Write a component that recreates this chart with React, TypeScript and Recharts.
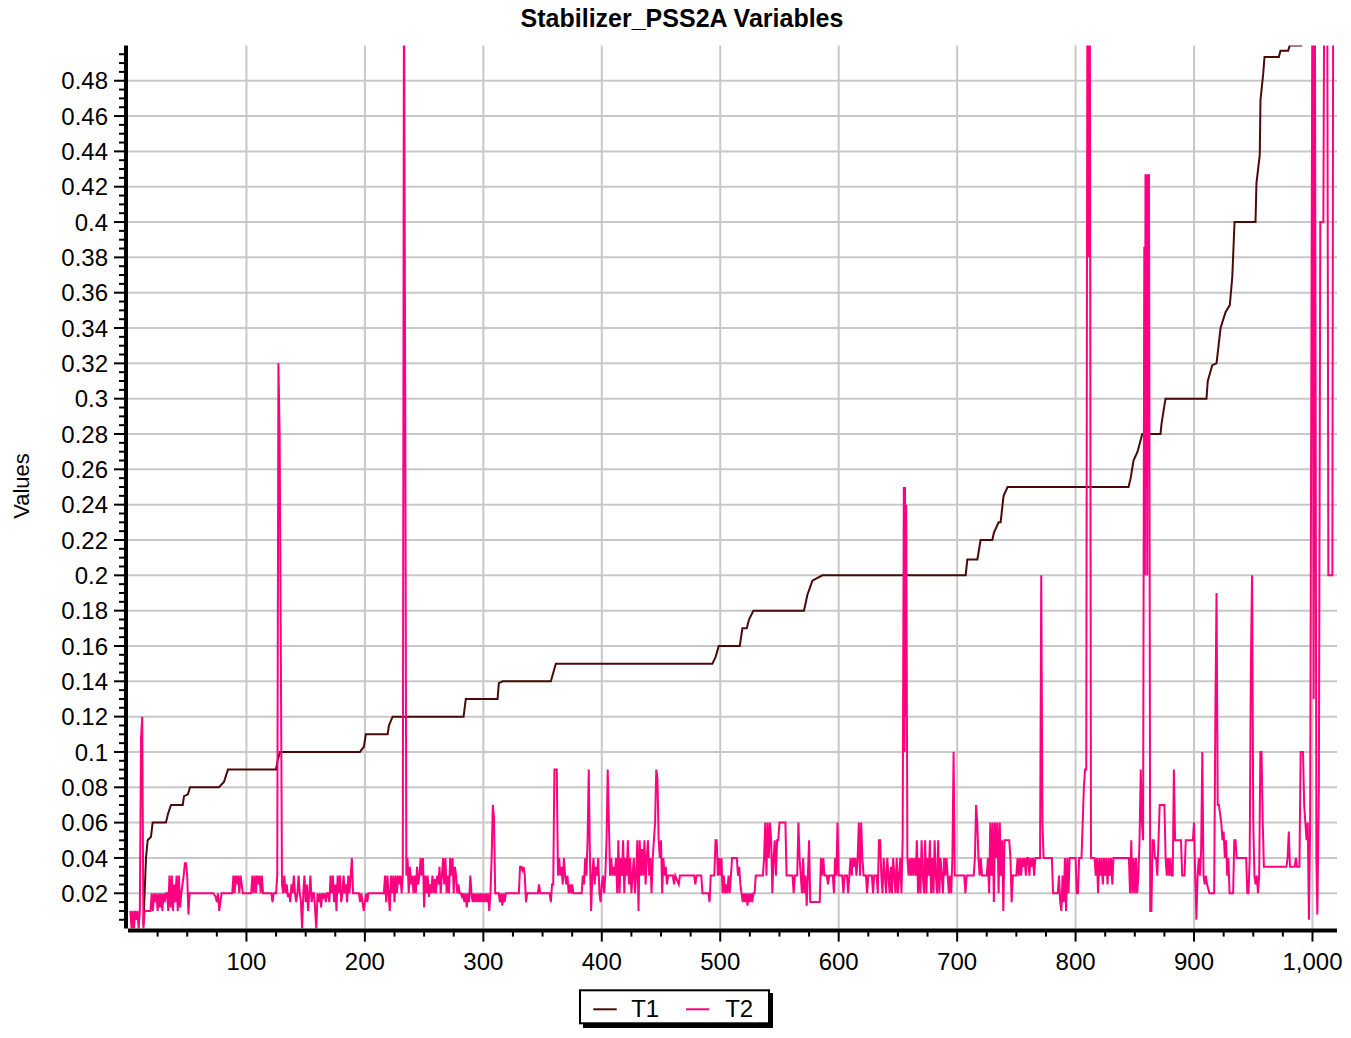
import React from 'react';
import { LineChart, Line, XAxis, YAxis, CartesianGrid } from 'recharts';

// ---- tick labels ----
const Y_MAJOR = [0.02, 0.04, 0.06, 0.08, 0.1, 0.12, 0.14, 0.16, 0.18, 0.2, 0.22, 0.24, 0.26, 0.28, 0.3, 0.32, 0.34, 0.36, 0.38, 0.4, 0.42, 0.44, 0.46, 0.48];
const X_MAJOR = [100, 200, 300, 400, 500, 600, 700, 800, 900, 1000];
const Y_TICKS = Array.from({ length: 99 }, (_, i) => +((i + 1) * 0.005).toFixed(3));
const X_TICKS = Array.from({ length: 40 }, (_, i) => (i + 1) * 25);

// ---- T1: staircase breakpoints [x, value] ----
const T1_POINTS: [number, number][] = [
  [13, 0.002], [15.2, 0.04], [16.6, 0.05], [19.4, 0.052], [20.8, 0.06], [32, 0.06], [33.8, 0.065], [36.3, 0.07], [46.2, 0.07], [47.3, 0.075],
  [50.6, 0.076], [52.3, 0.08], [76.8, 0.08], [81, 0.083], [84.4, 0.09], [124.9, 0.09], [126.3, 0.095], [128.3, 0.1], [195.8, 0.1], [199.2, 0.103],
  [200.8, 0.11], [219.2, 0.11], [220.3, 0.115], [223.4, 0.12], [283.3, 0.12], [285.2, 0.13], [312, 0.13], [313.1, 0.139], [316.2, 0.14], [357, 0.14],
  [361.2, 0.15], [493.4, 0.15], [496.2, 0.154], [498.7, 0.16], [516.5, 0.16], [518.7, 0.17], [522.4, 0.17], [524.3, 0.175], [528, 0.18], [570.7, 0.18],
  [573.6, 0.189], [577.8, 0.197], [586.2, 0.2], [707.2, 0.2], [708.6, 0.209], [717.1, 0.209], [719.8, 0.22], [729.7, 0.22], [731, 0.224], [735, 0.23],
  [736.7, 0.23], [739.2, 0.245], [742.6, 0.25], [844.7, 0.25], [846.5, 0.255], [848.9, 0.265], [852.3, 0.27], [856.3, 0.28], [871.7, 0.28], [872.6, 0.286],
  [875.9, 0.3], [910.5, 0.3], [911.6, 0.31], [915.4, 0.319], [919, 0.32], [922.4, 0.34], [926.6, 0.349], [930.2, 0.353], [932.3, 0.369], [934.2, 0.4],
  [951.9, 0.4], [952.7, 0.422], [955.5, 0.438], [956.1, 0.469], [958.4, 0.484], [959.5, 0.4935], [971.6, 0.4935], [973, 0.497], [979.5, 0.497], [980.8, 0.5],
  [991.3, 0.5],
];

// ---- T2: noisy series [x, value] ----
const T2_POINTS: [number, number][] = [
  [2, 0.01], [3, 0], [4, 0.01], [5, 0], [6, 0.01], [7, 0.005], [8, 0.01], [9, 0], [10, 0.01], [11, 0.108], [12, 0.12], [13, 0], [14, 0.01], [19, 0.01],
  [20, 0.02], [21, 0.01], [22, 0.02], [23, 0.015], [24, 0.02], [25, 0.01], [26, 0.02], [27, 0.012], [28, 0.02], [29, 0.01], [30, 0.02], [31, 0.015],
  [32, 0.02], [33, 0.02], [34, 0.01], [35, 0.03], [36, 0.012], [37, 0.03], [38, 0.01], [39, 0.025], [40, 0.015], [41, 0.03], [42, 0.01], [43, 0.03],
  [44, 0.012], [45, 0.02], [46, 0.025], [47, 0.03], [48, 0.037], [49, 0.037], [50, 0.03], [51, 0.008], [52, 0.02],
  [72, 0.02], [74, 0.018], [75, 0.015], [76, 0.02], [77, 0.01], [78, 0.015], [79, 0.02], [88, 0.02], [89, 0.03], [90, 0.02], [91, 0.03], [92, 0.025],
  [93, 0.03], [94, 0.02], [95, 0.03], [96, 0.025], [97, 0.02], [104, 0.02], [105, 0.03], [106, 0.02], [107, 0.03], [108, 0.02], [109, 0.03], [110, 0.025],
  [111, 0.03], [112, 0.02], [113, 0.03], [114, 0.02], [121, 0.02], [122, 0.015], [123, 0.02], [125, 0.02],
  [126, 0.03], [127, 0.32], [128, 0.28], [129, 0.16], [130, 0.025], [131, 0.02], [132, 0.03], [133, 0.02], [134, 0.025], [135, 0.018], [136, 0.02],
  [137, 0.015], [138, 0.025], [139, 0.02], [140, 0.03], [141, 0.02], [142, 0.015], [143, 0.02], [144, 0.03], [145, 0.02], [146, 0.015], [147, 0],
  [148, 0.02], [149, 0.03], [150, 0.015], [151, 0.025], [152, 0.01], [153, 0.02], [154, 0.03], [155, 0.015], [156, 0.02], [157, 0.02], [158, 0.01],
  [159, 0], [160, 0.02], [161, 0.015], [162, 0.02], [163, 0.012], [164, 0.02], [165, 0.018], [166, 0.02], [167, 0.015], [168, 0.02], [169, 0.02],
  [170, 0.015], [171, 0.03], [172, 0.02], [173, 0.03], [174, 0.015], [175, 0.025], [176, 0.01], [177, 0.03], [178, 0.02], [179, 0.03], [180, 0.015],
  [181, 0.02], [182, 0.03], [183, 0.02], [184, 0.025], [185, 0.015], [186, 0.03], [187, 0.02], [188, 0.03], [189, 0.04], [190, 0.02], [191, 0.02],
  [193, 0.02], [195, 0.02], [196, 0.015], [197, 0.02], [198, 0.015], [199, 0.01], [200, 0.015], [201, 0.02], [202, 0.015], [203, 0.02], [216, 0.02],
  [217, 0.03], [218, 0.015], [219, 0.03], [220, 0.02], [221, 0.01], [222, 0.03], [223, 0.02], [224, 0.03], [225, 0.015], [226, 0.03], [227, 0.02],
  [228, 0.03], [229, 0.025], [230, 0.03], [231, 0.02], [232, 0.03], [233, 0.55], [234, 0.31], [235, 0.03],
  [236, 0.04], [237, 0.02], [238, 0.035], [239, 0.025], [240, 0.03], [241, 0.02], [242, 0.03], [243, 0.02], [244, 0.035], [245, 0.025], [246, 0.03],
  [247, 0.04], [248, 0.03], [249, 0.04], [250, 0.012], [251, 0.03], [252, 0.02], [253, 0.03], [254, 0.018], [255, 0.025], [256, 0.02], [257, 0.03],
  [258, 0.02], [259, 0.028], [260, 0.02], [261, 0.03], [262, 0.025], [263, 0.035], [264, 0.02], [265, 0.03], [266, 0.04], [267, 0.025], [268, 0.04],
  [269, 0.02], [270, 0.03], [271, 0.02], [272, 0.04], [273, 0.03], [274, 0.04], [275, 0.02], [276, 0.035], [277, 0.03], [278, 0.02], [279, 0.025],
  [280, 0.02], [281, 0.02], [282, 0.018], [283, 0.02], [284, 0.015], [285, 0.02], [286, 0.012], [287, 0.02], [288, 0.015], [289, 0.03], [290, 0.02],
  [291, 0.015], [292, 0.02], [293, 0.015], [294, 0.02], [295, 0.015], [296, 0.02], [297, 0.015], [298, 0.02], [299, 0.015], [300, 0.02], [301, 0.015],
  [302, 0.02], [303, 0.015], [304, 0.02], [305, 0.01], [306, 0.02], [307, 0.04], [308, 0.07], [309, 0.063], [310, 0.02], [313, 0.02], [314, 0.015],
  [315, 0.02], [316, 0.013], [317, 0.02], [318, 0.015], [319, 0.02], [330, 0.02], [331, 0.035], [332, 0.035], [333, 0.033], [334, 0.035], [335, 0.03],
  [336, 0.015], [337, 0.02], [346, 0.02], [347, 0.025], [348, 0.02], [356, 0.02], [357, 0.015], [358, 0.025], [359, 0.025],
  [360, 0.09], [361, 0.09], [362, 0.09], [363, 0.03], [364, 0.04], [365, 0.03], [366, 0.035], [367, 0.025], [368, 0.04], [369, 0.03], [370, 0.025],
  [371, 0.03], [372, 0.02], [373, 0.025], [374, 0.02], [375, 0.025], [376, 0.02], [383, 0.02], [384, 0.03], [385, 0.025], [386, 0.04], [387, 0.03],
  [388, 0.05], [389, 0.09], [390, 0.04], [391, 0.01], [392, 0.03], [393, 0.04], [394, 0.025], [395, 0.035], [396, 0.03], [397, 0.04], [398, 0.02],
  [399, 0.015], [400, 0.025], [401, 0.03], [402, 0.02], [403, 0.03], [404, 0.05], [405, 0.09], [406, 0.06], [407, 0.03], [408, 0.04], [409, 0.03],
  [410, 0.035], [411, 0.03], [412, 0.04], [413, 0.02], [414, 0.05], [415, 0.02], [416, 0.04], [417, 0.03], [418, 0.05], [419, 0.02], [420, 0.04],
  [421, 0.03], [422, 0.05], [423, 0.025], [424, 0.04], [425, 0.02], [426, 0.03], [427, 0.04], [428, 0.02], [429, 0.03], [430, 0.05], [431, 0.01],
  [432, 0.05], [433, 0.03], [434, 0.045], [435, 0.03], [436, 0.05], [437, 0.025], [438, 0.04], [439, 0.05], [440, 0.03], [441, 0.04], [442, 0.02],
  [443, 0.04], [444, 0.05], [445, 0.06], [446, 0.09], [447, 0.085], [448, 0.05], [449, 0.04], [450, 0.05], [451, 0.02], [452, 0.04], [453, 0.03],
  [454, 0.035], [455, 0.025], [456, 0.03], [460, 0.03], [461, 0.025], [462, 0.03], [465, 0.025], [466, 0.03], [478, 0.03], [479, 0.025], [480, 0.03],
  [484, 0.03], [485, 0.02], [490, 0.02], [491, 0.015], [492, 0.03], [495, 0.03], [496, 0.05], [497, 0.05], [498, 0.03], [499, 0.04], [500, 0.03],
  [501, 0.04], [502, 0.02], [503, 0.03], [504, 0.02], [505, 0.025], [506, 0.02], [507, 0.03], [508, 0.02], [509, 0.03], [510, 0.04], [514, 0.04],
  [515, 0.03], [516, 0.035], [517, 0.025], [518, 0.02], [519, 0.015], [520, 0.02], [521, 0.015], [522, 0.02], [523, 0.013], [524, 0.02], [525, 0.015],
  [526, 0.02], [527, 0.015], [528, 0.02], [529, 0.02], [530, 0.03], [536, 0.03], [537, 0.04], [538, 0.06], [539, 0.03], [540, 0.06], [541, 0.04],
  [542, 0.06], [543, 0.05], [544, 0.02], [545, 0.04], [546, 0.05], [547, 0.03], [548, 0.05], [549, 0.05], [550, 0.06], [555, 0.06], [556, 0.03],
  [561, 0.03], [562, 0.02], [563, 0.03], [565, 0.03], [566, 0.06], [567, 0.04], [568, 0.03], [569, 0.02], [570, 0.04], [571, 0.02], [572, 0.03],
  [573, 0.013], [574, 0.03], [575, 0.05], [576, 0.015], [584, 0.015], [585, 0.04], [586, 0.03], [587, 0.04], [588, 0.03], [590, 0.03], [591, 0.025],
  [592, 0.03], [595, 0.03], [596, 0.02], [597, 0.04], [598, 0.03], [599, 0.06], [600, 0.03], [603, 0.03], [604, 0.02], [605, 0.03], [607, 0.03],
  [608, 0.02], [609, 0.03], [610, 0.04], [611, 0.03], [612, 0.04], [613, 0.035], [614, 0.04], [615, 0.03], [616, 0.04], [617, 0.06], [618, 0.03],
  [619, 0.06], [620, 0.04], [621, 0.03], [623, 0.03], [624, 0.02], [625, 0.03], [628, 0.03], [629, 0.02], [630, 0.03], [632, 0.03], [633, 0.02],
  [634, 0.05], [635, 0.05], [636, 0.03], [637, 0.02], [638, 0.04], [639, 0.03], [640, 0.02], [641, 0.04], [642, 0.03], [643, 0.02], [644, 0.035],
  [645, 0.02], [646, 0.04], [647, 0.03], [648, 0.02], [649, 0.04], [650, 0.02], [651, 0.03], [652, 0.04], [653, 0.02], [654, 0.05], [655, 0.25],
  [655.5, 0.1], [656, 0.25], [656.5, 0.12], [657, 0.24], [658, 0.04],
  [659, 0.03], [660, 0.04], [661, 0.03], [662, 0.04], [663, 0.03], [664, 0.04], [665, 0.03], [666, 0.05], [667, 0.02], [668, 0.04], [669, 0.02],
  [670, 0.05], [671, 0.03], [672, 0.02], [673, 0.05], [674, 0.02], [675, 0.04], [676, 0.03], [677, 0.05], [678, 0.02], [679, 0.04], [680, 0.02],
  [681, 0.05], [682, 0.03], [683, 0.02], [684, 0.05], [685, 0.02], [686, 0.04], [687, 0.03], [688, 0.02], [689, 0.04], [690, 0.03], [691, 0.04],
  [692, 0.03], [693, 0.02], [694, 0.03], [695, 0.02], [696, 0.04], [697, 0.1], [698, 0.03], [706, 0.03], [707, 0.02], [708, 0.03], [714, 0.03],
  [715, 0.04], [716, 0.07], [717, 0.06], [718, 0.04], [719, 0.03], [720, 0.04], [721, 0.03], [725, 0.03], [726, 0.04], [727, 0.02], [728, 0.06],
  [729, 0.03], [730, 0.06], [731, 0.015], [732, 0.06], [733, 0.04], [734, 0.06], [735, 0.02], [736, 0.06], [737, 0.03], [738, 0.05], [739, 0.01],
  [740, 0.05], [744, 0.05], [745, 0.04], [746, 0.015], [747, 0.03], [750, 0.03], [751, 0.04], [752, 0.03], [753, 0.04], [754, 0.03], [755, 0.04],
  [756, 0.035], [757, 0.04], [758, 0.03], [759, 0.04], [760, 0.04], [761, 0.03], [762, 0.04], [763, 0.035], [764, 0.04], [765, 0.03], [766, 0.04],
  [770, 0.04], [771, 0.2], [772, 0.06], [773, 0.04], [780, 0.04], [781, 0.02], [785, 0.02], [786, 0.03], [787, 0.015], [788, 0.01], [789, 0.03],
  [790, 0.015], [791, 0.04], [792, 0.01], [793, 0.04], [794, 0.02], [795, 0.04], [800, 0.04],
  [801, 0.02], [802, 0.02], [803, 0.04], [805, 0.04], [806, 0.06], [807, 0.08], [808, 0.09], [809, 0.09], [810, 0.55], [810.5, 0.38], [811, 0.55],
  [811.5, 0.38], [812, 0.55], [813, 0.04], [815, 0.04], [816, 0.04], [817, 0.03], [818, 0.04], [819, 0.02], [820, 0.04], [821, 0.03], [822, 0.04],
  [823, 0.025], [824, 0.04], [825, 0.03], [826, 0.04], [827, 0.025], [828, 0.04], [829, 0.03], [830, 0.04], [831, 0.025], [832, 0.04], [845, 0.04],
  [846, 0.02], [847, 0.05], [848, 0.02], [849, 0.04], [850, 0.02], [851, 0.04], [852, 0.02], [853, 0.03], [854, 0.05], [855, 0.09], [856, 0.06],
  [857, 0.05], [858, 0.386], [858.5, 0.2], [859, 0.427], [859.5, 0.25], [860, 0.427], [860.5, 0.2], [861, 0.427], [861.5, 0.3], [862, 0.427],
  [863, 0.01], [864, 0.01], [865, 0.05], [866, 0.05], [867, 0.04], [868, 0.04], [869, 0.03],
  [870, 0.05], [871, 0.07], [872, 0.07], [875, 0.07], [876, 0.04], [877, 0.03], [878, 0.04], [879, 0.03], [880, 0.04], [881, 0.03], [882, 0.03],
  [883, 0.09], [884, 0.05], [889, 0.05], [890, 0.03], [892, 0.03], [893, 0.05], [899, 0.05], [900, 0.06], [901, 0.03], [902, 0.005], [903, 0.03],
  [904, 0.04], [905, 0.03], [906, 0.045], [907, 0.1], [908, 0.03], [909, 0.025], [910, 0.03], [911, 0.025], [913, 0.02], [917, 0.02], [918, 0.12],
  [919, 0.19], [920, 0.07], [921, 0.07], [922, 0.065], [923, 0.06], [924, 0.05], [925, 0.055], [926, 0.04], [927, 0.05], [928, 0.03], [929, 0.04],
  [930, 0.02], [933, 0.02], [934, 0.05], [935, 0.05], [936, 0.04], [944, 0.04], [945, 0.02], [946, 0.02], [947, 0.04], [948, 0.15], [949, 0.2],
  [950, 0.06], [951, 0.03], [952, 0.025], [953, 0.03], [954, 0.02], [955, 0.03], [956, 0.1], [957, 0.1], [958, 0.06], [959, 0.035], [978, 0.035],
  [979, 0.04], [980, 0.055], [981, 0.035], [983, 0.035], [985, 0.035], [986, 0.04], [987, 0.035], [989, 0.035], [990, 0.1], [992, 0.1], [993, 0.07],
  [994, 0.06], [995, 0.05], [996, 0.06], [997, 0.005], [998, 0.059], [1000, 0.55], [1001, 0.13], [1002, 0.55], [1003.3, 0.04], [1004.1, 0.008],
  [1005.4, 0.08], [1006.6, 0.4], [1009.2, 0.4], [1010, 0.55], [1012.4, 0.55], [1013, 0.35], [1013.4, 0.2], [1016.8, 0.2], [1017.5, 0.55],
];

const T1_COLOR = '#4b0a0a';
const T2_COLOR = '#ff0080';
const FONT = "Arial, 'Liberation Sans', sans-serif";

const t1Data = T1_POINTS.map(([x, v]) => ({ x, t1: v }));
const t2Data = T2_POINTS.map(([x, v]) => ({ x, t2: v }));

const isYMajor = (v: number) => Y_MAJOR.some((m) => Math.abs(m - v) < 1e-6);
const isXMajor = (v: number) => X_MAJOR.includes(v);

const YTick = (props: any) => {
  const { x, y, payload } = props;
  const v = payload.value as number;
  const major = isYMajor(v);
  return (
    <g>
      <line x1={x - (major ? 14 : 9)} x2={x - 3} y1={y} y2={y} stroke="#000" strokeWidth={2} />
      {major && (
        <text x={x - 20} y={y} dy={8.6} textAnchor="end" fontSize={24} fontFamily={FONT} fill="#000">
          {String(Number(v.toFixed(2)))}
        </text>
      )}
    </g>
  );
};

const XTick = (props: any) => {
  const { x, y, payload } = props;
  const v = payload.value as number;
  const major = isXMajor(v);
  return (
    <g>
      <line x1={x} x2={x} y1={y + 3} y2={y + (major ? 13 : 8)} stroke="#000" strokeWidth={2} />
      {major && (
        <text x={x} y={y + 41.4} textAnchor="middle" fontSize={24} fontFamily={FONT} fill="#000">
          {v.toLocaleString('en-US')}
        </text>
      )}
    </g>
  );
};

export default function App() {
  return (
    <div style={{ position: 'relative', width: 1343, height: 1030 }}>
      <LineChart width={1343} height={1030} margin={{ top: 37.4, right: 14, bottom: 49.4, left: 0 }}>
        <CartesianGrid stroke="#c8c8c8" strokeWidth={2} horizontalValues={Y_MAJOR} verticalValues={X_MAJOR} />
        <XAxis
          type="number"
          dataKey="x"
          domain={[0, 1020.7]}
          allowDataOverflow
          ticks={X_TICKS}
          interval={0}
          tick={XTick}
          tickLine={false}
          tickSize={0}
          tickMargin={0}
          height={60}
          axisLine={{ stroke: '#000', strokeWidth: 4, transform: 'translate(0,2)' }}
        />
        <YAxis
          type="number"
          domain={[0, 0.5]}
          allowDataOverflow
          ticks={Y_TICKS}
          interval={0}
          width={120}
          tick={YTick}
          tickLine={false}
          tickSize={0}
          tickMargin={0}
          axisLine={{ stroke: '#000', strokeWidth: 4, transform: 'translate(-2,0)' }}
        />
        <Line data={t1Data} dataKey="t1" type="linear" stroke={T1_COLOR} strokeWidth={2} dot={false} activeDot={false} isAnimationActive={false} />
        <Line data={t2Data} dataKey="t2" type="linear" stroke={T2_COLOR} strokeWidth={2} dot={false} activeDot={false} isAnimationActive={false} />
      </LineChart>
      <svg width={1343} height={1038} style={{ position: 'absolute', left: 0, top: -8, pointerEvents: 'none', overflow: 'visible' }}>
        <text x={674} y={27} textAnchor="middle" fontSize={25} fontWeight="bold" fontFamily={FONT} fill="#000">
          Stabilizer_PSS2A Variables
        </text>
        <text transform="translate(21,486) rotate(-90)" textAnchor="middle" fontSize={22} fontFamily={FONT} fill="#000">
          Values
        </text>
        <rect x={575} y={993} width={190} height={35} fill="#000" />
        <rect x={572} y={990.3} width={189} height={33} fill="#fff" stroke="#000" strokeWidth={2} />
        <line x1={585.3} x2={608.7} y1={1009.3} y2={1009.3} stroke={T1_COLOR} strokeWidth={2} />
        <text x={623.2} y={1017.3} fontSize={24} fontFamily={FONT} fill="#000">T1</text>
        <line x1={678} x2={701.3} y1={1009.3} y2={1009.3} stroke={T2_COLOR} strokeWidth={2} />
        <text x={717.2} y={1017.3} fontSize={24} fontFamily={FONT} fill="#000">T2</text>
      </svg>
    </div>
  );
}
